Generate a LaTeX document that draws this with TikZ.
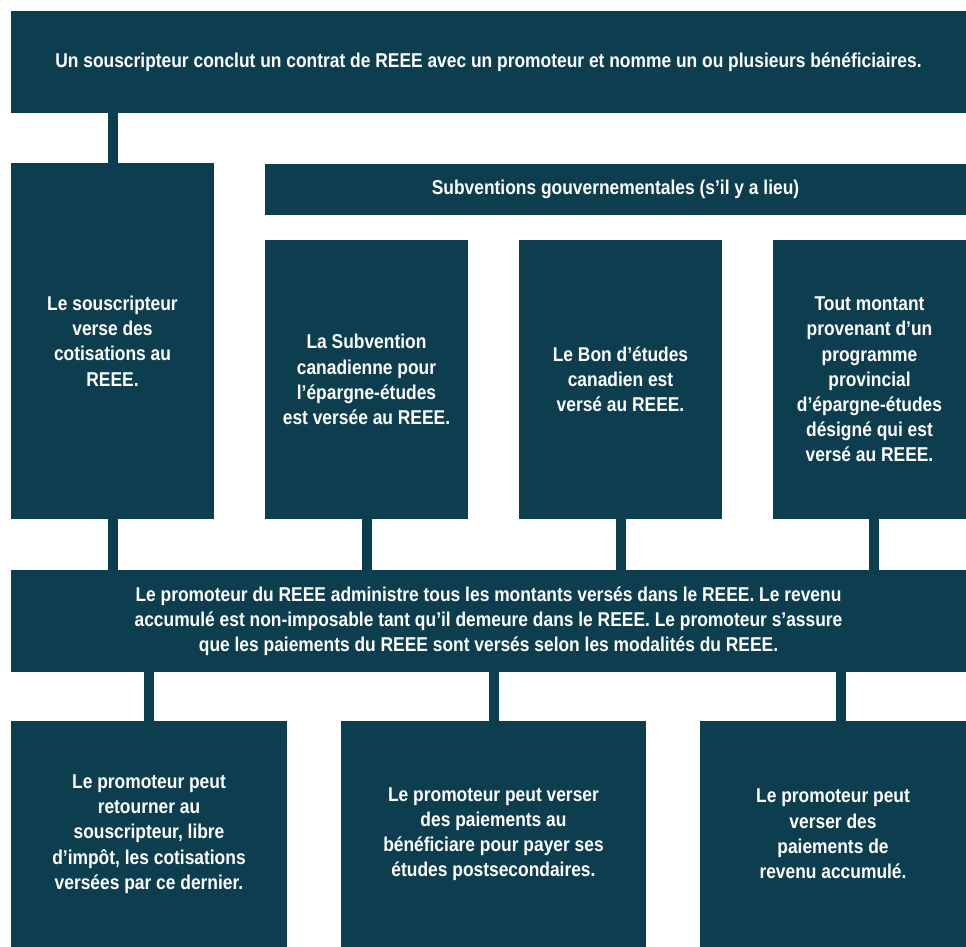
\documentclass[tikz,border=0pt]{standalone}
\usepackage{fontspec}
\newfontfamily\condfont[FakeStretch=0.87]{Liberation Sans}
\definecolor{navy}{HTML}{0D3E50}
\begin{document}
\begin{tikzpicture}[x=1pt,y=-1pt,
  box/.style={fill=navy,draw=none,inner sep=0pt,align=center,text=white,
    font=\condfont\bfseries\fontsize{20}{25.2}\selectfont},
  conn/.style={draw=navy,line width=10pt}]
\useasboundingbox[fill=white] (0,0) rectangle (966,947);
\node[box,minimum width=955pt,minimum height=102pt] (top) at (488.5,62)
  {Un souscripteur conclut un contrat de REEE avec un promoteur et nomme un ou plusieurs bénéficiaires.};
\node[box,minimum width=203pt,minimum height=356pt] (sous) at (112.5,341)
  {Le souscripteur\\verse des\\cotisations au\\REEE.};
\node[box,minimum width=701pt,minimum height=51pt] (subv) at (615.5,189.5)
  {Subventions gouvernementales (s’il y a lieu)};
\node[box,minimum width=203pt,minimum height=279pt] (sce) at (366.5,379.5)
  {La Subvention\\canadienne pour\\l’épargne-études\\est versée au REEE.};
\node[box,minimum width=203pt,minimum height=279pt] (bec) at (620.5,379.5)
  {Le Bon d’études\\canadien est\\versé au REEE.};
\node[box,minimum width=193pt,minimum height=279pt] (prov) at (869.5,379.5)
  {Tout montant\\provenant d’un\\programme\\provincial\\d’épargne-études\\désigné qui est\\versé au REEE.};
\node[box,minimum width=955pt,minimum height=102pt] (mid) at (488.5,621)
  {Le promoteur du REEE administre tous les montants versés dans le REEE. Le revenu\\accumulé est non-imposable tant qu’il demeure dans le REEE. Le promoteur s’assure\\que les paiements du REEE sont versés selon les modalités du REEE.};
\node[box,minimum width=276pt,minimum height=226pt] (ret) at (149,834)
  {Le promoteur peut\\retourner au\\souscripteur, libre\\d’impôt, les cotisations\\versées par ce dernier.};
\node[box,minimum width=305pt,minimum height=226pt] (pae) at (493.5,834)
  {Le promoteur peut verser\\des paiements au\\bénéficiare pour payer ses\\études postsecondaires.};
\node[box,minimum width=266pt,minimum height=226pt] (pra) at (833,834)
  {Le promoteur peut\\verser des\\paiements de\\revenu accumulé.};
\draw[conn] (sous.north |- top.south) -- (sous.north);
\draw[conn] (sous.south) -- (sous.south |- mid.north);
\draw[conn] (sce.south) -- (sce.south |- mid.north);
\draw[conn] (bec.south) -- (bec.south |- mid.north);
\draw[conn] ([xshift=4.5pt]prov.south) -- ([xshift=4.5pt]prov.south |- mid.north);
\draw[conn] (ret.north |- mid.south) -- (ret.north);
\draw[conn] (pae.north |- mid.south) -- (pae.north);
\draw[conn] ([xshift=8pt]pra.north |- mid.south) -- ([xshift=8pt]pra.north);
\end{tikzpicture}
\end{document}
